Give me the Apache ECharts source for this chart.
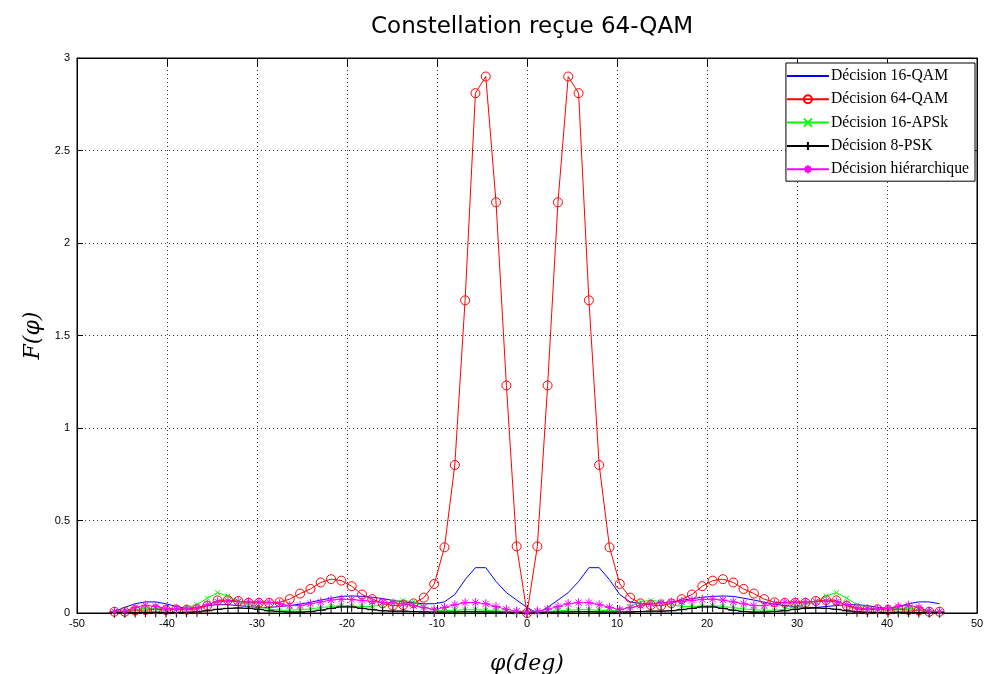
<!DOCTYPE html>
<html>
<head>
<meta charset="utf-8">
<script src="https://cdn.jsdelivr.net/npm/echarts@6/dist/echarts.min.js"></script>
<style>
html,body{margin:0;padding:0;background:#fff;}
#chart{width:985px;height:674px;}
</style>
</head>
<body>
<div id="chart"></div>
<script>
// phi (deg), 81 samples
var phi = [-45.84,-44.69,-43.54,-42.40,-41.25,-40.11,-38.96,-37.82,-36.67,-35.52,-34.38,-33.23,-32.09,-30.94,-29.79,-28.65,-27.50,-26.36,-25.21,-24.06,-22.92,-21.77,-20.63,-19.48,-18.33,-17.19,-16.04,-14.90,-13.75,-12.61,-11.46,-10.31,-9.17,-8.02,-6.88,-5.73,-4.58,-3.44,-2.29,-1.15,0,1.15,2.29,3.44,4.58,5.73,6.88,8.02,9.17,10.31,11.46,12.61,13.75,14.90,16.04,17.19,18.33,19.48,20.63,21.77,22.92,24.06,25.21,26.36,27.50,28.65,29.79,30.94,32.09,33.23,34.38,35.52,36.67,37.82,38.96,40.11,41.25,42.40,43.54,44.69,45.84];

var qam16 = [0.01,0.03,0.05,0.06,0.06,0.05,0.035,0.025,0.03,0.04,0.045,0.045,0.04,0.035,0.03,0.03,0.035,0.04,0.048,0.058,0.07,0.08,0.09,0.092,0.09,0.085,0.078,0.068,0.06,0.055,0.05,0.05,0.06,0.10,0.18,0.245,0.245,0.17,0.11,0.07,0.03,0,0.03,0.07,0.11,0.17,0.245,0.245,0.18,0.10,0.06,0.05,0.05,0.055,0.06,0.068,0.078,0.085,0.09,0.092,0.09,0.08,0.07,0.058,0.048,0.04,0.035,0.03,0.03,0.035,0.04,0.045,0.045,0.04,0.03,0.025,0.035,0.05,0.06,0.06,0.05,0.03,0.01];

var qam64 = [0.007,0.007,0.014,0.016,0.02,0.016,0.02,0.018,0.022,0.04,0.068,0.07,0.065,0.055,0.055,0.055,0.058,0.075,0.105,0.13,0.165,0.183,0.175,0.145,0.10,0.075,0.052,0.04,0.043,0.052,0.083,0.157,0.355,0.80,1.69,2.81,2.90,2.22,1.23,0.36,0,0.36,1.23,2.22,2.90,2.81,1.69,0.80,0.355,0.157,0.083,0.052,0.043,0.04,0.052,0.075,0.10,0.145,0.175,0.183,0.165,0.13,0.105,0.075,0.058,0.055,0.055,0.055,0.065,0.07,0.068,0.04,0.022,0.018,0.02,0.016,0.02,0.016,0.014,0.007,0.007];

var apsk16 = [0.006,0.012,0.02,0.025,0.025,0.02,0.02,0.03,0.045,0.08,0.11,0.092,0.062,0.045,0.035,0.02,0.015,0.015,0.018,0.022,0.03,0.035,0.04,0.038,0.035,0.035,0.045,0.062,0.068,0.06,0.035,0.015,0.012,0.015,0.018,0.018,0.015,0.012,0.01,0.005,0,0.005,0.01,0.012,0.015,0.018,0.018,0.015,0.012,0.015,0.035,0.06,0.068,0.062,0.045,0.035,0.035,0.038,0.04,0.035,0.03,0.022,0.018,0.015,0.015,0.02,0.035,0.045,0.062,0.092,0.11,0.08,0.045,0.03,0.02,0.02,0.025,0.025,0.02,0.012,0.006];

var psk8 = [0.002,0.002,0.003,0.004,0.004,0.003,0.003,0.004,0.006,0.012,0.02,0.025,0.027,0.025,0.02,0.012,0.008,0.005,0.005,0.008,0.015,0.025,0.033,0.033,0.025,0.018,0.012,0.01,0.01,0.008,0.006,0.005,0.005,0.006,0.007,0.007,0.006,0.005,0.004,0.002,0,0.002,0.004,0.005,0.006,0.007,0.007,0.006,0.005,0.005,0.006,0.008,0.01,0.01,0.012,0.018,0.025,0.033,0.033,0.025,0.015,0.008,0.005,0.005,0.008,0.012,0.02,0.025,0.027,0.025,0.02,0.012,0.006,0.004,0.003,0.003,0.004,0.004,0.003,0.002,0.002];

var hier = [0.008,0.01,0.03,0.042,0.035,0.025,0.022,0.022,0.028,0.045,0.06,0.064,0.062,0.06,0.06,0.058,0.05,0.04,0.04,0.05,0.06,0.07,0.075,0.073,0.068,0.062,0.058,0.054,0.05,0.04,0.03,0.018,0.03,0.045,0.056,0.056,0.05,0.035,0.02,0.01,0.005,0.01,0.02,0.035,0.05,0.056,0.056,0.045,0.03,0.018,0.03,0.04,0.05,0.054,0.058,0.062,0.068,0.073,0.075,0.07,0.06,0.05,0.04,0.04,0.05,0.058,0.06,0.06,0.062,0.064,0.06,0.045,0.028,0.022,0.022,0.025,0.035,0.042,0.03,0.01,0.008];

var seriesNames = ['Décision 16-QAM','Décision 64-QAM','Décision 16-APSk','Décision 8-PSK','Décision hiérarchique'];
var titleText = 'Constellation reçue 64-QAM';

function pairs(ys){ return phi.map(function(x,i){ return [x, ys[i]]; }); }

var nonePath = 'path://M0,0L10,10';
var crossPath = 'path://M0,0L10,10M10,0L0,10';
var plusPath = 'path://M5,0L5,10M0,5L10,5';
var starPath = 'path://M5,0L5,10M0,5L10,5M1.6,1.6L8.4,8.4M8.4,1.6L1.6,8.4';

var chart = echarts.init(document.getElementById('chart'), null, {renderer:'canvas'});
var labelFont = {fontFamily:'Liberation Sans, Arial, sans-serif', fontSize:11, color:'#000'};
var splitDot = {show:true, lineStyle:{color:'#333', type:[1,3], width:1}};

chart.setOption({
  animation:false,
  backgroundColor:'#fff',
  title:{
    text:titleText, left:527, top:11, textAlign:'center',
    textStyle:{fontFamily:'DejaVu Sans, sans-serif', fontSize:23, fontWeight:'normal', color:'#000'}
  },
  grid:{left:77, right:8, top:58, bottom:61, outerBoundsMode:'none', containLabel:false,
    show:true, borderColor:'#000', borderWidth:1, backgroundColor:'#fff'},
  legend:{
    orient:'vertical', right:10, top:63,
    backgroundColor:'#fff', borderColor:'#000', borderWidth:1,
    padding:[5,6,4,0],
    itemWidth:42, itemHeight:10, itemGap:7.3,
    textStyle:{fontFamily:'Liberation Serif, Times New Roman, serif', fontSize:15.7, lineHeight:14, color:'#000', padding:[0,0,0,-3]},
    data:seriesNames
  },
  xAxis:[{
    type:'value', min:-50, max:50, interval:10,
    name:'φ(deg)', nameLocation:'middle', nameGap:40,
    nameTextStyle:{fontFamily:'DejaVu Serif, serif', fontStyle:'italic', fontSize:22, color:'#000'},
    axisLine:{show:true, onZero:false, lineStyle:{color:'#000'}},
    axisTick:{show:true, inside:true, length:8, lineStyle:{color:'#000'}},
    axisLabel:Object.assign({margin:5}, labelFont),
    splitLine:splitDot
  },{
    type:'value', min:-50, max:50, interval:10, position:'top',
    axisLine:{show:true, onZero:false, lineStyle:{color:'#000'}},
    axisTick:{show:true, inside:true, length:8, lineStyle:{color:'#000'}},
    axisLabel:{show:false}, splitLine:{show:false}
  }],
  yAxis:[{
    type:'value', min:0, max:3, interval:0.5,
    name:'F(φ)', nameLocation:'middle', nameGap:33, nameRotate:90,
    nameTextStyle:{fontFamily:'DejaVu Serif, serif', fontStyle:'italic', fontSize:22, color:'#000'},
    axisLine:{show:true, onZero:false, lineStyle:{color:'#000'}},
    axisTick:{show:true, inside:true, length:6, lineStyle:{color:'#000'}},
    axisLabel:Object.assign({margin:7}, labelFont),
    splitLine:splitDot
  },{
    type:'value', min:0, max:3, interval:0.5, position:'right',
    axisLine:{show:true, onZero:false, lineStyle:{color:'#000'}},
    axisTick:{show:true, inside:true, length:6, lineStyle:{color:'#000'}},
    axisLabel:{show:false}, splitLine:{show:false}
  }],
  series:[
    {name:seriesNames[0], type:'line', data:pairs(qam16), showSymbol:false, symbol:nonePath, symbolSize:1,
      lineStyle:{color:'#0000ff', width:1}, itemStyle:{color:'#0000ff', borderWidth:0}},
    {name:seriesNames[1], type:'line', data:pairs(qam64), symbol:'circle', symbolSize:9,
      lineStyle:{color:'#ff0000', width:1}, itemStyle:{color:'rgba(255,255,255,0)', borderColor:'#ff0000', borderWidth:1}},
    {name:seriesNames[2], type:'line', data:pairs(apsk16), symbol:crossPath, symbolSize:5,
      lineStyle:{color:'#00ff00', width:1}, itemStyle:{color:'#00ff00', borderColor:'#00ff00', borderWidth:1}},
    {name:seriesNames[3], type:'line', data:pairs(psk8), symbol:plusPath, symbolSize:10,
      lineStyle:{color:'#000000', width:1}, itemStyle:{color:'#000000', borderColor:'#000000', borderWidth:1}},
    {name:seriesNames[4], type:'line', data:pairs(hier), symbol:starPath, symbolSize:9,
      lineStyle:{color:'#ff00ff', width:1}, itemStyle:{color:'#ff00ff', borderColor:'#ff00ff', borderWidth:1}}
  ]
});
</script>
</body>
</html>
